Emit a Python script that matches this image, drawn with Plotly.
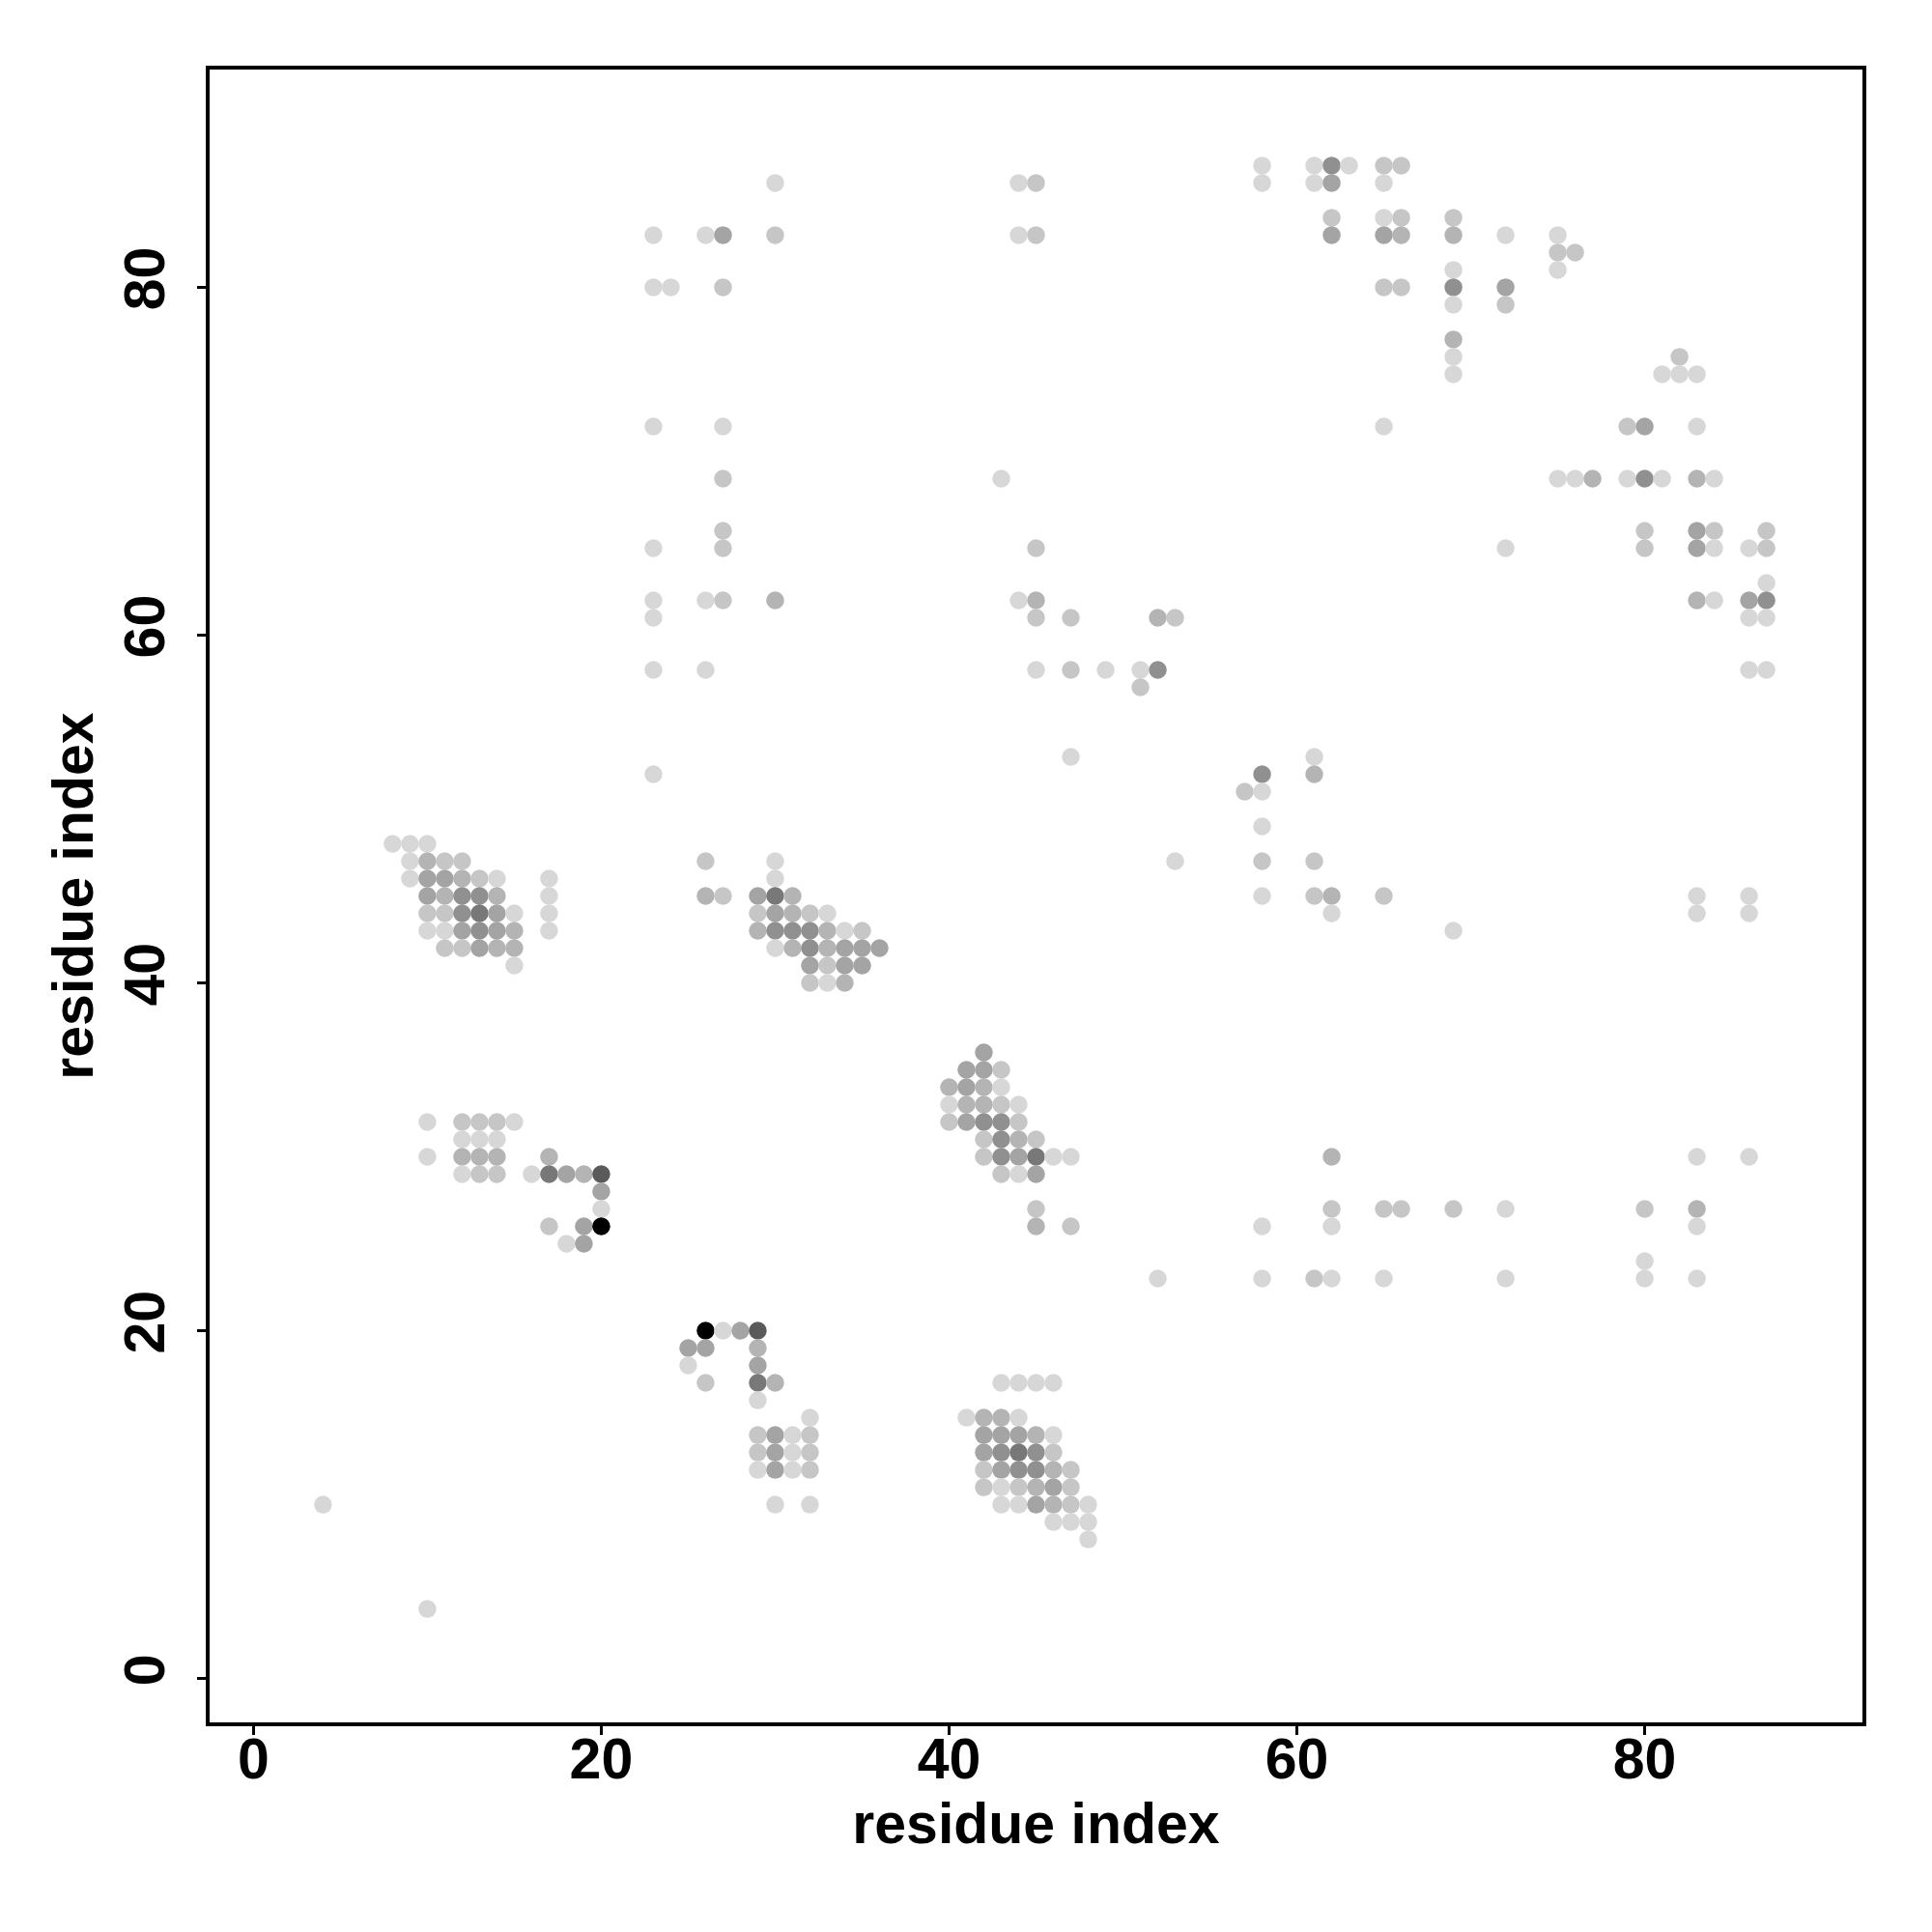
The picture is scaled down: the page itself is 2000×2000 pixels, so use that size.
import plotly.graph_objects as go

# residue contact map: (i, j, shade level 1=light .. 8=black)
contact_i = [
    58, 61, 62, 63, 65, 66,
    30, 44, 45, 58, 61, 62, 65,
    62, 65, 66, 69,
    23, 26, 27, 30, 44, 45, 62, 65, 66, 69, 72, 75,
    75, 76,
    69, 75,
    23, 24, 27, 65, 66, 69, 72,
    69, 72,
    69,
    69, 82,
    69, 81, 82, 83,
    23, 27, 65, 79, 80, 83,
    27, 43, 75, 76, 77, 79, 80, 81, 83, 84,
    27, 80, 83, 84, 87,
    23, 27, 45, 72, 80, 83, 84, 86, 87,
    87,
    23, 26, 27, 30, 44, 45, 83, 84, 86, 87,
    23, 45, 47, 52, 53, 86, 87,
    23, 26, 45, 47, 49, 51, 52, 86, 87,
    51,
    47, 61,
    23, 58, 61,
    57, 58,
    58,
    8, 9, 10,
    9, 10, 11, 12, 26, 30, 53, 58, 61,
    9, 10, 11, 12, 13, 14, 17, 30,
    10, 11, 12, 13, 14, 17, 26, 27, 29, 30, 31, 58, 61, 62, 65, 83, 86,
    10, 11, 12, 13, 14, 15, 17, 29, 30, 31, 32, 33, 62, 83, 86,
    10, 11, 12, 13, 14, 15, 17, 29, 30, 31, 32, 33, 34, 35, 69,
    11, 12, 13, 14, 15, 30, 31, 32, 33, 34, 35, 36,
    15, 32, 33, 34, 35,
    32, 33, 34,
    42,
    41, 42, 43,
    40, 41, 42, 43,
    40, 41, 42, 43, 44,
    10, 12, 13, 14, 15, 40, 41, 42, 43, 44,
    12, 13, 14, 42, 43, 44, 45,
    10, 12, 13, 14, 17, 42, 43, 44, 45, 46, 47, 62, 83, 86,
    12, 13, 14, 16, 17, 18, 19, 20, 43, 44, 45,
    20,
    20, 45, 62, 65, 66, 69, 72, 80, 83,
    17, 19, 20, 45, 47, 58, 62, 83,
    18, 19,
    80,
    52, 58, 61, 62, 65, 72, 80, 83,
    26, 27, 28, 29,
    25, 26, 29,
    25, 29,
    26, 29, 30, 43, 44, 45, 46,
    29,
    32, 41, 42, 43, 44,
    29, 30, 31, 32, 42, 43, 44, 45, 46,
    29, 30, 31, 32, 42, 43, 44, 45, 46,
    29, 30, 31, 32, 42, 43, 44, 45, 46, 47,
    42, 43, 44, 45, 46, 47,
    4, 30, 32, 43, 44, 45, 46, 47, 48,
    46, 47, 48,
    48,
    10,
]
contact_j = [
    87, 87, 87, 87, 87, 87,
    86, 86, 86, 86, 86, 86, 86,
    84, 84, 84, 84,
    83, 83, 83, 83, 83, 83, 83, 83, 83, 83, 83, 83,
    82, 82,
    81, 81,
    80, 80, 80, 80, 80, 80, 80,
    79, 79,
    77,
    76, 76,
    75, 75, 75, 75,
    72, 72, 72, 72, 72, 72,
    69, 69, 69, 69, 69, 69, 69, 69, 69, 69,
    66, 66, 66, 66, 66,
    65, 65, 65, 65, 65, 65, 65, 65, 65,
    63,
    62, 62, 62, 62, 62, 62, 62, 62, 62, 62,
    61, 61, 61, 61, 61, 61, 61,
    58, 58, 58, 58, 58, 58, 58, 58, 58,
    57,
    53, 53,
    52, 52, 52,
    51, 51,
    49,
    48, 48, 48,
    47, 47, 47, 47, 47, 47, 47, 47, 47,
    46, 46, 46, 46, 46, 46, 46, 46,
    45, 45, 45, 45, 45, 45, 45, 45, 45, 45, 45, 45, 45, 45, 45, 45, 45,
    44, 44, 44, 44, 44, 44, 44, 44, 44, 44, 44, 44, 44, 44, 44,
    43, 43, 43, 43, 43, 43, 43, 43, 43, 43, 43, 43, 43, 43, 43,
    42, 42, 42, 42, 42, 42, 42, 42, 42, 42, 42, 42,
    41, 41, 41, 41, 41,
    40, 40, 40,
    36,
    35, 35, 35,
    34, 34, 34, 34,
    33, 33, 33, 33, 33,
    32, 32, 32, 32, 32, 32, 32, 32, 32, 32,
    31, 31, 31, 31, 31, 31, 31,
    30, 30, 30, 30, 30, 30, 30, 30, 30, 30, 30, 30, 30, 30,
    29, 29, 29, 29, 29, 29, 29, 29, 29, 29, 29,
    28,
    27, 27, 27, 27, 27, 27, 27, 27, 27,
    26, 26, 26, 26, 26, 26, 26, 26,
    25, 25,
    24,
    23, 23, 23, 23, 23, 23, 23, 23,
    20, 20, 20, 20,
    19, 19, 19,
    18, 18,
    17, 17, 17, 17, 17, 17, 17,
    16,
    15, 15, 15, 15, 15,
    14, 14, 14, 14, 14, 14, 14, 14, 14,
    13, 13, 13, 13, 13, 13, 13, 13, 13,
    12, 12, 12, 12, 12, 12, 12, 12, 12, 12,
    11, 11, 11, 11, 11, 11,
    10, 10, 10, 10, 10, 10, 10, 10, 10,
    9, 9, 9,
    8,
    4,
]
contact_level = [
    1, 1, 5, 1, 2, 2,
    1, 1, 2, 1, 1, 4, 1,
    2, 1, 2, 2,
    1, 1, 4, 2, 1, 2, 4, 4, 3, 3, 1, 1,
    2, 2,
    1, 1,
    1, 1, 2, 2, 2, 5, 4,
    1, 2,
    3,
    1, 2,
    1, 1, 1, 1,
    1, 1, 1, 2, 4, 1,
    2, 1, 1, 1, 3, 1, 5, 1, 3, 1,
    2, 2, 4, 2, 2,
    1, 2, 2, 1, 2, 4, 1, 1, 2,
    1,
    1, 1, 2, 3, 1, 3, 3, 1, 4, 5,
    1, 2, 2, 3, 2, 1, 1,
    1, 1, 1, 2, 1, 1, 5, 1, 1,
    2,
    1, 1,
    1, 5, 3,
    2, 1,
    1,
    1, 1, 1,
    1, 3, 2, 2, 2, 1, 1, 2, 2,
    1, 4, 4, 3, 2, 1, 1, 1,
    4, 3, 5, 5, 3, 1, 3, 2, 4, 6, 3, 1, 2, 3, 2, 1, 1,
    2, 2, 5, 6, 4, 1, 1, 2, 4, 3, 2, 1, 1, 1, 1,
    1, 1, 4, 5, 4, 3, 1, 3, 5, 5, 5, 3, 1, 2, 1,
    2, 2, 4, 3, 3, 1, 3, 5, 3, 4, 4, 4,
    1, 4, 2, 4, 4,
    2, 1, 3,
    4,
    4, 4, 2,
    3, 4, 3, 1,
    1, 3, 3, 2, 1,
    1, 2, 2, 2, 1, 2, 4, 5, 5, 2,
    1, 1, 1, 2, 5, 3, 2,
    1, 3, 3, 3, 3, 2, 5, 4, 6, 1, 1, 3, 1, 1,
    1, 2, 2, 1, 6, 4, 3, 7, 2, 1, 4,
    4,
    1, 2, 2, 2, 2, 2, 1, 2, 3,
    2, 4, 8, 3, 2, 1, 1, 1,
    1, 4,
    1,
    1, 1, 2, 1, 1, 1, 1, 1,
    8, 1, 4, 7,
    4, 4, 3,
    1, 4,
    2, 6, 3, 1, 1, 1, 1,
    1,
    1, 1, 3, 3, 1,
    2, 4, 1, 2, 4, 4, 4, 3, 1,
    2, 4, 1, 2, 4, 5, 6, 5, 2,
    1, 4, 1, 2, 2, 4, 5, 5, 3, 2,
    2, 1, 2, 3, 4, 2,
    1, 1, 1, 1, 1, 4, 3, 2, 1,
    1, 1, 1,
    1,
    1,
]

tick_values = [0, 20, 40, 60, 80]
axis_label = "residue index"

gray_scale = [
    [0 / 7, "#d7d7d7"],
    [1 / 7, "#c6c6c6"],
    [2 / 7, "#b4b4b4"],
    [3 / 7, "#a4a4a4"],
    [4 / 7, "#909090"],
    [5 / 7, "#787878"],
    [6 / 7, "#5a5a5a"],
    [7 / 7, "#000000"],
]

fig = go.Figure(
    go.Scatter(
        x=contact_i,
        y=contact_j,
        mode="markers",
        marker=dict(
            size=18.5,
            color=contact_level,
            colorscale=gray_scale,
            cmin=1,
            cmax=8,
            line=dict(width=0),
        ),
        showlegend=False,
        hoverinfo="x+y",
    )
)

tick_font = dict(family="Liberation Sans", size=59, color="black", weight="bold")
title_font = dict(family="Liberation Sans", size=59, color="black", weight="bold")

axis_common = dict(
    range=[-2.52, 92.52],
    tickvals=tick_values,
    ticks="outside",
    ticklen=9,
    tickwidth=3,
    tickcolor="black",
    showline=True,
    linewidth=3.5,
    linecolor="black",
    mirror=True,
    showgrid=False,
    zeroline=False,
    tickfont=tick_font,
)

fig.update_layout(
    width=2000,
    height=2000,
    margin=dict(l=209, r=80, t=64, b=225),
    plot_bgcolor="white",
    paper_bgcolor="white",
    xaxis=dict(**axis_common, ticklabelstandoff=-26,
               title=dict(text=axis_label, font=title_font, standoff=15)),
    yaxis=dict(**axis_common, tickangle=-90, ticklabelstandoff=11,
               title=dict(text=axis_label, font=title_font, standoff=2)),
)

fig.write_html("out.html")
